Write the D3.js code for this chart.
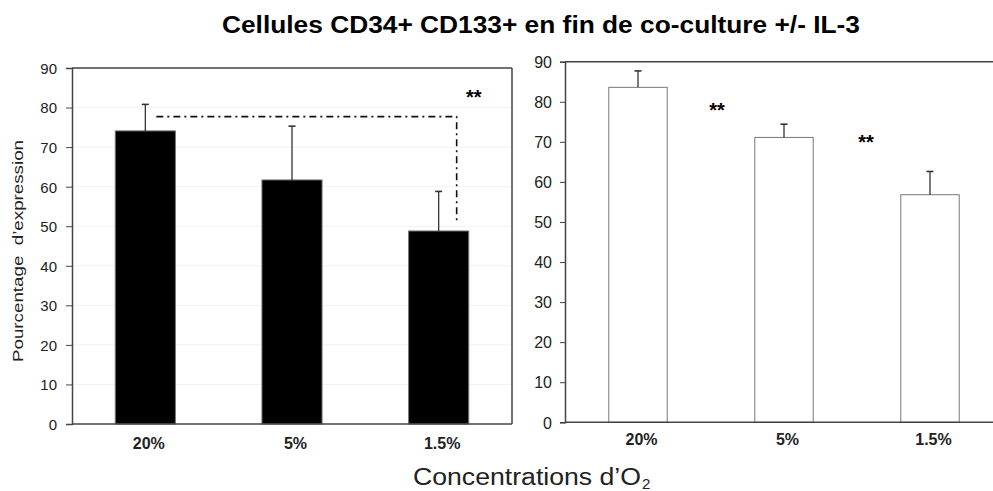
<!DOCTYPE html>
<html><head><meta charset="utf-8">
<script src="https://cdn.jsdelivr.net/npm/d3@7"></script>
<style>
body{margin:0;background:#fff;}
svg{display:block;font-family:"Liberation Sans",Arial,sans-serif;}
</style></head><body>
<svg id="c" width="993" height="491"></svg>
<script>
const categories = ["20%", "5%", "1.5%"];
const leftValues = [74.1, 61.7, 48.8];
const leftErrors = [6.7, 13.6, 10.0];
const rightValues = [83.6, 71.1, 56.8];
const rightErrors = [4.1, 3.3, 5.8];
const yTicks = [0, 10, 20, 30, 40, 50, 60, 70, 80, 90];
const titleText = "Cellules CD34+ CD133+ en fin de co-culture +/- IL-3";
const yLabel = "Pourcentage\u00a0\u00a0d\u2019expression";
const xTitle = "Concentrations d\u2019O";
const xTitleSub = "2";
const sigLeft = {from: 0, to: 2, level: 77.7, endLevel: 50.5, label: "**", labelLevel: 80.8};
const sigRight = [{between: [0, 1], level: 76.1, dx: 6, label: "**"}, {between: [1, 2], level: 68.1, dx: 9, label: "**"}];

const svg = d3.select("#c");
const axisColor = "#444";

function panel(opts) {
  const x = d3.scaleBand().domain(categories).range(opts.xr).paddingInner(opts.pad).paddingOuter(opts.pad / 2);
  const y = d3.scaleLinear().domain([0, 90]).range(opts.yr);
  const g = svg.append("g");
  if (opts.grid) {
    g.selectAll("line.grid").data(yTicks.slice(1)).join("line")
      .attr("x1", opts.xr[0]).attr("x2", opts.frameRight)
      .attr("y1", d => y(d)).attr("y2", d => y(d))
      .attr("stroke", "#f2f2f2").attr("stroke-width", 1);
  }
  g.selectAll("rect.bar").data(opts.values).join("rect")
    .attr("x", (d, i) => x(categories[i]))
    .attr("width", x.bandwidth())
    .attr("y", d => y(d))
    .attr("height", d => y(0) - y(d))
    .attr("fill", opts.fill).attr("stroke", opts.stroke).attr("stroke-width", 1);
  const cx = i => x(categories[i]) + x.bandwidth() / 2;
  g.selectAll("line.err").data(opts.values).join("line")
    .attr("x1", (d, i) => cx(i)).attr("x2", (d, i) => cx(i))
    .attr("y1", d => y(d)).attr("y2", (d, i) => y(d + opts.errors[i]))
    .attr("stroke", "#333").attr("stroke-width", 1.3);
  g.selectAll("line.cap").data(opts.values).join("line")
    .attr("x1", (d, i) => cx(i) - 3.5).attr("x2", (d, i) => cx(i) + 3.5)
    .attr("y1", (d, i) => y(d + opts.errors[i])).attr("y2", (d, i) => y(d + opts.errors[i]))
    .attr("stroke", "#333").attr("stroke-width", 1.6);
  g.append("line").attr("x1", opts.xr[0]).attr("x2", opts.frameRight).attr("y1", y(90)).attr("y2", y(90))
    .attr("stroke", axisColor).attr("stroke-width", 1.5);
  if (opts.rightBorder) {
    g.append("line").attr("x1", opts.frameRight).attr("x2", opts.frameRight).attr("y1", y(90)).attr("y2", y(0))
      .attr("stroke", axisColor).attr("stroke-width", 1.5);
  }
  g.append("line").attr("x1", opts.xr[0]).attr("x2", opts.frameRight).attr("y1", y(0)).attr("y2", y(0))
    .attr("stroke", axisColor).attr("stroke-width", 1.5);
  const ya = g.append("g").attr("transform", `translate(${opts.xr[0]},0)`)
    .call(d3.axisLeft(y).tickValues(yTicks).tickSize(opts.tickSize).tickPadding(opts.tickPad));
  ya.select(".domain").attr("stroke", axisColor).attr("stroke-width", 1.5);
  ya.selectAll(".tick line").attr("stroke", axisColor).attr("stroke-width", 1);
  ya.selectAll(".tick text").attr("font-size", opts.tickFont).attr("fill", "#222")
    .attr("font-family", "Liberation Sans, Arial, sans-serif").attr("dy", "0.36em");
  g.selectAll("text.xl").data(categories).join("text")
    .attr("x", d => x(d) + x.bandwidth() / 2 + 3.5)
    .attr("y", y(0) + opts.xlOffset)
    .attr("text-anchor", "middle").attr("font-size", 16).attr("font-weight", "bold").attr("fill", "#222")
    .text(d => d);
  return {x, y, g, cx};
}

const L = panel({xr: [72, 512], frameRight: 512, yr: [424, 68], pad: 0.59, values: leftValues, errors: leftErrors,
  fill: "#000", stroke: "#777", grid: true, rightBorder: true, xlOffset: 25, tickSize: 6, tickPad: 9, tickFont: 15});
const R = panel({xr: [565, 1003], frameRight: 993, yr: [422.3, 61.7], pad: 0.6, values: rightValues, errors: rightErrors,
  fill: "#fff", stroke: "#777", grid: false, rightBorder: false, xlOffset: 23, tickSize: 5, tickPad: 8, tickFont: 16});

{
  const x1 = L.cx(sigLeft.from) + 11, x2 = L.cx(sigLeft.to) + 18;
  const yy = L.y(sigLeft.level), ye = L.y(sigLeft.endLevel);
  L.g.append("path").attr("d", `M${x1},${yy}H${x2}V${ye}`)
    .attr("fill", "none").attr("stroke", "#111").attr("stroke-width", 1.6)
    .attr("stroke-dasharray", "7,4,2,4");
  L.g.append("text").attr("x", L.cx(sigLeft.to) + 35).attr("y", L.y(sigLeft.labelLevel)).attr("text-anchor", "middle")
    .attr("font-size", 20).attr("font-weight", "bold").text(sigLeft.label);
}
sigRight.forEach(s => {
  const xm = (R.cx(s.between[0]) + R.cx(s.between[1])) / 2;
  R.g.append("text").attr("x", xm + s.dx).attr("y", R.y(s.level)).attr("text-anchor", "middle")
    .attr("font-size", 20).attr("font-weight", "bold").text(s.label);
});

// title
svg.append("text").attr("x", 222).attr("y", 32.5)
  .attr("font-size", 23).attr("font-weight", "bold").attr("fill", "#000")
  .attr("textLength", 638).attr("lengthAdjust", "spacingAndGlyphs").text(titleText);
// y label
svg.append("text").attr("transform", "translate(22.5,251) rotate(-90)").attr("text-anchor", "middle")
  .attr("font-size", 14).attr("fill", "#222")
  .attr("textLength", 222).attr("lengthAdjust", "spacingAndGlyphs").text(yLabel);
// x title
svg.append("text").attr("x", 413).attr("y", 485)
  .attr("font-size", 23).attr("fill", "#222")
  .attr("textLength", 228).attr("lengthAdjust", "spacingAndGlyphs").text(xTitle);
svg.append("text").attr("x", 642).attr("y", 489)
  .attr("font-size", 15).attr("fill", "#222").text(xTitleSub);
</script>
</body></html>
